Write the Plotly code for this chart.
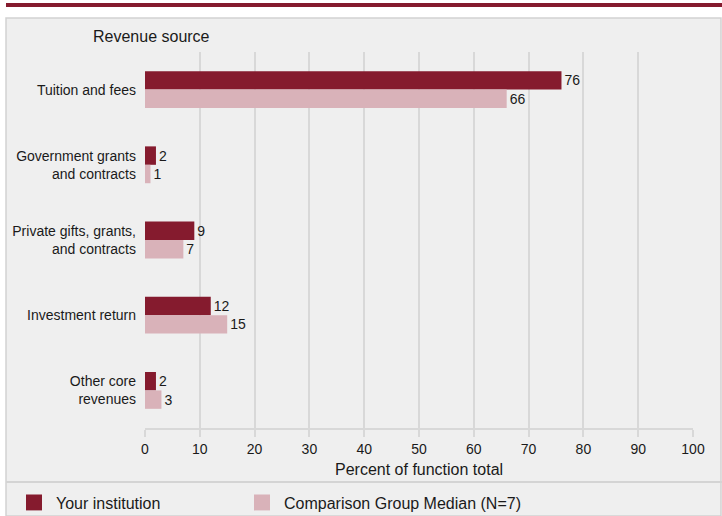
import plotly.graph_objects as go

categories = ["Tuition and fees", "Government grants<br>and contracts",
              "Private gifts, grants,<br>and contracts", "Investment return",
              "Other core<br>revenues"]
your_institution = [76, 2, 9, 12, 2]
comparison_median = [66, 1, 7, 15, 3]
series_names = ["Your institution", "Comparison Group Median (N=7)"]
x_ticks = [0, 10, 20, 30, 40, 50, 60, 70, 80, 90, 100]

DARK = "#851b2e"
LIGHT = "#d9b2b9"
PANEL = "#efefef"
GRID = "#d8d8d8"
FONT = "Arial, Liberation Sans, sans-serif"

W, H = 722, 516
L, R, T, B = 145, 29, 52, 88
PW, PH = W - L - R, H - T - B


def px(x):
    return (x - L) / PW


def py(y):
    return (H - B - y) / PH


fig = go.Figure()
legends = ["legend", "legend2"]
for name, vals, col, lg in [(series_names[0], your_institution, DARK, legends[0]),
                            (series_names[1], comparison_median, LIGHT, legends[1])]:
    fig.add_trace(go.Bar(
        y=categories, x=vals, orientation="h", name=name,
        marker=dict(color=col, line=dict(width=0)),
        text=[str(v) for v in vals], textposition="outside",
        textfont=dict(size=14, color="#1a1a1a", family=FONT),
        constraintext="none", cliponaxis=False, showlegend=False,
    ))
    fig.add_trace(go.Scatter(
        x=[None], y=[None], mode="markers", name=name,
        marker=dict(symbol="square", size=16, color=col),
        showlegend=True, legend=lg,
    ))

shapes = [
    dict(type="rect", xref="paper", yref="paper", x0=px(6), x1=px(721),
         y0=py(516), y1=py(18), fillcolor=PANEL,
         line=dict(color="#d2d2d2", width=1.5), layer="below"),
    dict(type="rect", xref="paper", yref="paper", x0=px(6), x1=px(722),
         y0=py(7), y1=py(3), fillcolor=DARK, line=dict(width=0), layer="below"),
    dict(type="line", xref="paper", yref="paper", x0=px(6), x1=px(722),
         y0=py(482), y1=py(482), line=dict(color="#d4d4d4", width=2),
         layer="below"),
]

leg_common = dict(orientation="h", xanchor="left", yanchor="middle",
                  y=py(502.5), font=dict(size=16, color="#1a1a1a"),
                  bgcolor="rgba(0,0,0,0)", itemwidth=34)

fig.update_layout(
    width=W, height=H,
    margin=dict(l=L, r=R, t=T, b=B, pad=0, autoexpand=False),
    paper_bgcolor="white", plot_bgcolor="rgba(0,0,0,0)",
    font=dict(family=FONT, size=14, color="#1a1a1a"),
    barmode="group", bargap=0.51, bargroupgap=0,
    shapes=shapes,
    showlegend=True,
    legend=dict(x=px(12), **leg_common),
    legend2=dict(x=px(240), **leg_common),
    annotations=[
        dict(text="Revenue source", xref="paper", yref="paper", x=px(91),
             y=py(37), xanchor="left", yanchor="middle", showarrow=False,
             font=dict(size=16, color="#1a1a1a")),
        dict(text="Percent of function total", xref="paper", yref="paper",
             x=0.5, y=py(469), xanchor="center", yanchor="middle",
             showarrow=False, font=dict(size=16, color="#1a1a1a")),
    ],
    xaxis=dict(range=[0, 100], tickvals=x_ticks, showgrid=True,
               gridcolor=GRID, gridwidth=2, zeroline=False,
               showline=True, linecolor=GRID, linewidth=2,
               ticks="outside", ticklen=7, tickwidth=2, tickcolor=GRID,
               tickfont=dict(size=14, color="#1a1a1a")),
    yaxis=dict(autorange="reversed", showgrid=False, zeroline=False,
               showline=False, ticks="", ticklabelstandoff=8,
               tickfont=dict(size=14, color="#1a1a1a")),
)

fig.write_html("out.html", config={"displayModeBar": False},
               post_script="document.body.style.margin='0';")
